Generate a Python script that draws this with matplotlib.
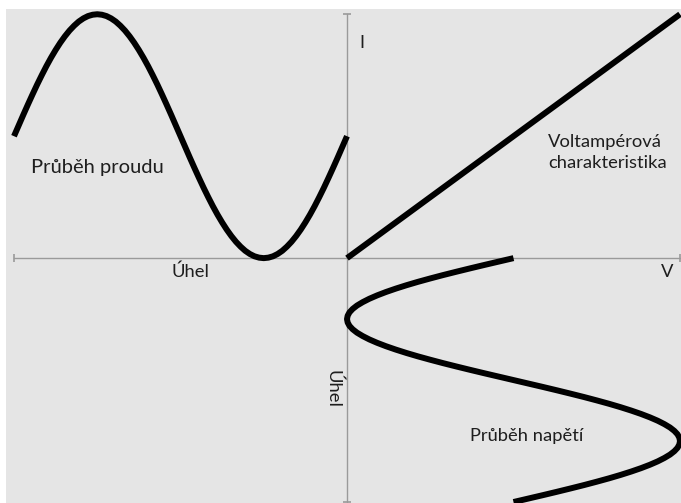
import matplotlib
matplotlib.use("Agg")
import matplotlib.pyplot as plt

# ---- data ----
angle_deg = list(range(0, 361, 5))
current_I = [1.000, 0.913, 0.826, 0.741, 0.658, 0.577, 0.500, 0.426, 0.357, 0.293,
             0.234, 0.181, 0.134, 0.094, 0.060, 0.034, 0.015, 0.004, 0.000, 0.004,
             0.015, 0.034, 0.060, 0.094, 0.134, 0.181, 0.234, 0.293, 0.357, 0.426,
             0.500, 0.577, 0.658, 0.741, 0.826, 0.913, 1.000, 1.087, 1.174, 1.259,
             1.342, 1.423, 1.500, 1.574, 1.643, 1.707, 1.766, 1.819, 1.866, 1.906,
             1.940, 1.966, 1.985, 1.996, 2.000, 1.996, 1.985, 1.966, 1.940, 1.906,
             1.866, 1.819, 1.766, 1.707, 1.643, 1.574, 1.500, 1.423, 1.342, 1.259,
             1.174, 1.087, 1.000]
voltage_V = [1.000, 0.913, 0.826, 0.741, 0.658, 0.577, 0.500, 0.426, 0.357, 0.293,
             0.234, 0.181, 0.134, 0.094, 0.060, 0.034, 0.015, 0.004, 0.000, 0.004,
             0.015, 0.034, 0.060, 0.094, 0.134, 0.181, 0.234, 0.293, 0.357, 0.426,
             0.500, 0.577, 0.658, 0.741, 0.826, 0.913, 1.000, 1.087, 1.174, 1.259,
             1.342, 1.423, 1.500, 1.574, 1.643, 1.707, 1.766, 1.819, 1.866, 1.906,
             1.940, 1.966, 1.985, 1.996, 2.000, 1.996, 1.985, 1.966, 1.940, 1.906,
             1.866, 1.819, 1.766, 1.707, 1.643, 1.574, 1.500, 1.423, 1.342, 1.259,
             1.174, 1.087, 1.000]
char_V = [0.0, 2.0]
char_I = [0.0, 2.0]
axis_extent = [-2.0, 2.0]

labels = {
    "proud": "Průběh proudu",
    "napeti": "Průběh napětí",
    "char1": "Voltampérová",
    "char2": "charakteristika",
    "uhel": "Úhel",
    "I": "I",
    "V": "V",
}

# ---- figure ----
W, H = 681, 503
fig = plt.figure(figsize=(W / 100, H / 100), dpi=100, facecolor="white")
ax = fig.add_axes([6 / W, 0, 675 / W, 494 / H])
ax.set_facecolor("#e5e5e5")
ax.set_xlim(-2.048, 2.006)
ax.set_ylim(-2.008, 2.043)
for s in ax.spines.values():
    s.set_visible(False)
ax.set_xticks([])
ax.set_yticks([])

axis_col = "#9a9a9a"
ax.plot(axis_extent, [0, 0], color=axis_col, lw=1.0, zorder=1)
ax.plot([0, 0], axis_extent, color=axis_col, lw=1.0, zorder=1)
ax.plot(axis_extent, [0, 0], ls="none", marker="|", ms=6, mew=1.2, color=axis_col, zorder=1)
ax.plot([0, 0], axis_extent, ls="none", marker="_", ms=6, mew=1.2, color=axis_col, zorder=1)

lw = 4.3
scale = 180.0
# current vs angle (angle grows to the left)
ax.plot([-a / scale for a in angle_deg], current_I, color="black", lw=lw,
        solid_capstyle="butt", solid_joinstyle="round", zorder=3)
# voltage vs angle (angle grows downward)
ax.plot(voltage_V, [-a / scale for a in angle_deg], color="black", lw=lw,
        solid_capstyle="butt", solid_joinstyle="round", zorder=3)
# volt-ampere characteristic
ax.plot(char_V, char_I, color="black", lw=lw, solid_capstyle="butt", zorder=3)

fam = ["Lato", "DejaVu Sans"]
tc = "#1e1e1e"
fs = 14.5
fs2 = 13.2
ax.text(-1.898, 0.697, labels["proud"], fontsize=fs, family=fam, color=tc,
        ha="left", va="baseline")
ax.text(0.739, -1.497, labels["napeti"], fontsize=fs2, family=fam, color=tc,
        ha="left", va="baseline")
ax.text(1.207, 0.912, labels["char1"], fontsize=fs2, family=fam, color=tc,
        ha="left", va="baseline")
ax.text(1.207, 0.738, labels["char2"], fontsize=fs2, family=fam, color=tc,
        ha="left", va="baseline")
ax.text(-0.943, -0.153, labels["uhel"], fontsize=fs2, family=fam, color=tc,
        ha="center", va="baseline")
ax.text(1.922, -0.156, labels["V"], fontsize=fs2, family=fam, color=tc,
        ha="center", va="baseline")
ax.text(0.09, 1.721, labels["I"], fontsize=fs2, family=fam, color=tc,
        ha="center", va="baseline")
ax.text(-0.084, -1.074, labels["uhel"], fontsize=fs2, family=fam, color=tc,
        ha="center", va="center", rotation=-90)

fig.savefig("out.png", dpi=100, facecolor="white")
